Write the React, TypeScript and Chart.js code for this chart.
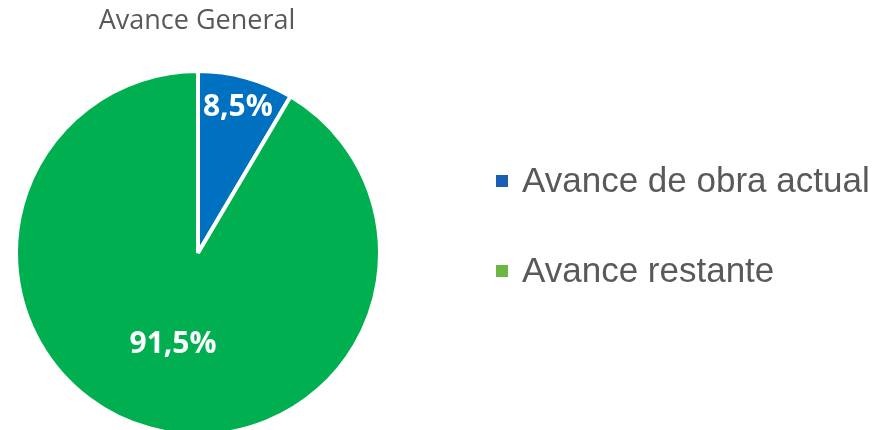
import React, { useEffect, useRef } from "react";
import { Chart, registerables } from "chart.js";

Chart.register(...registerables);

const chartTitle = "Avance General";
const categories = ["Avance de obra actual", "Avance restante"];
const values = [8.5, 91.5];
const valueLabels = ["8,5%", "91,5%"];
const sliceColors = ["#0070C0", "#00B050"];
const legendColors = ["#1A5FB4", "#6CB644"];
const labelRadiusFractions = [0.83, 0.52];

const overlayPlugin = {
  id: "overlay",
  afterDatasetsDraw(chart: any) {
    const ctx = chart.ctx as CanvasRenderingContext2D;
    const meta = chart.getDatasetMeta(0);
    ctx.save();
    // value labels
    ctx.fillStyle = "#FFFFFF";
    ctx.font = "bold 30px 'Open Sans'";
    ctx.textAlign = "center";
    ctx.textBaseline = "middle";
    let cx = 0;
    meta.data.forEach((arc: any, i: number) => {
      const p = arc.getProps(["x", "y", "startAngle", "endAngle", "outerRadius"], true);
      cx = p.x;
      const mid = (p.startAngle + p.endAngle) / 2;
      const r = p.outerRadius * labelRadiusFractions[i];
      ctx.fillText(valueLabels[i], p.x + Math.cos(mid) * r, p.y + Math.sin(mid) * r);
    });
    // title
    ctx.fillStyle = "#595959";
    ctx.font = "27px 'Open Sans'";
    ctx.fillText(chartTitle, cx - 1, 21);
    // legend
    const lx = 496;
    const ly = [181, 271];
    ctx.textAlign = "left";
    ctx.font = "35px 'Liberation Sans'";
    categories.forEach((c, i) => {
      ctx.fillStyle = legendColors[i];
      ctx.fillRect(lx, ly[i] - 6, 12, 12);
      ctx.fillStyle = "#595959";
      ctx.fillText(c, lx + 26, ly[i] + 1);
    });
    ctx.restore();
  },
};

export default function App() {
  const ref = useRef<HTMLCanvasElement | null>(null);
  useEffect(() => {
    if (!ref.current) return;
    const chart = new Chart(ref.current, {
      type: "pie",
      data: {
        labels: categories,
        datasets: [
          {
            data: values,
            backgroundColor: sliceColors,
            borderColor: "#FFFFFF",
            borderWidth: 4,
            radius: 182,
          } as any,
        ],
      },
      options: {
        animation: false,
        responsive: false,
        events: [],
        layout: { padding: { left: 0, right: 479, top: 76, bottom: 0 } },
        plugins: {
          legend: { display: false },
          title: { display: false },
          tooltip: { enabled: false },
        },
      },
      plugins: [overlayPlugin],
    });
    return () => chart.destroy();
  }, []);
  return (
    <div style={{ position: "fixed", left: 0, top: 0, width: 875, height: 430, background: "#fff" }}>
      <canvas ref={ref} width={875} height={430} />
    </div>
  );
}
